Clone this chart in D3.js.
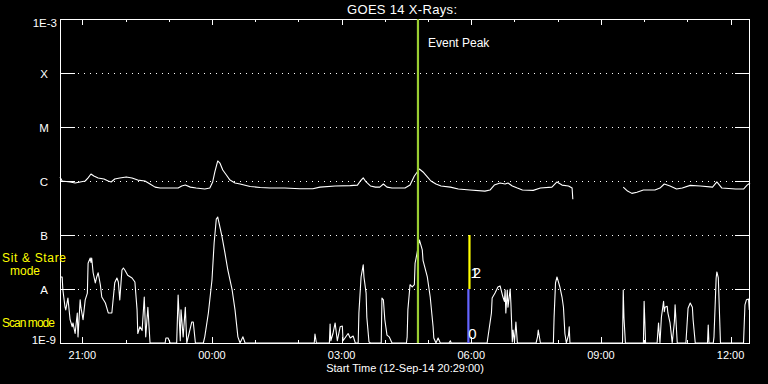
<!DOCTYPE html>
<html><head><meta charset="utf-8">
<script src="https://cdn.jsdelivr.net/npm/d3@7"></script>
<style>html,body{margin:0;padding:0;background:#000;} svg{display:block;}</style>
</head><body>
<svg id="chart" width="768" height="384"></svg>
<script>
// ---- data ----
const startTime = Date.UTC(2014, 8, 12, 20, 29, 0);   // 12-Sep-14 20:29:00
const spanMinutes = 958;
const levelValues = [1e-9, 1e-8, 1e-7, 1e-6, 1e-5, 1e-4, 1e-3];
const levelLabels = ["1E-9", "A", "B", "C", "M", "X", "1E-3"];

// long channel (minutes after start, W/m^2)
const longTimes = [0,3,14,21,28,35,39,43,47,53,61,67,71,76,83,92,100,108,118,125,132,139,153,164,169,174,181,189,201,208,212,215,219,222,226,231,236,243,250,264,278,292,312,333,351,361,382,403,413,417,421,425,431,438,444,449,454,461,479,486,492,499,504,510,515,522,529,542,553,569,590,597,603,611,618,622,628,635,642,657,667,683,690,697,706,711,712,745,782,788,794,801,810,826,833,839,847,856,864,875,889,906,912,919,938,949,954,958];
const longFlux = [1.19e-6,1.00e-6,0.96e-6,0.92e-6,0.96e-6,1.00e-6,1.14e-6,1.35e-6,1.24e-6,1.14e-6,1.09e-6,1.00e-6,0.96e-6,1.09e-6,1.14e-6,1.19e-6,1.14e-6,1.04e-6,1.00e-6,0.88e-6,0.77e-6,0.74e-6,0.74e-6,0.74e-6,0.81e-6,0.84e-6,0.77e-6,0.74e-6,0.71e-6,0.74e-6,0.96e-6,1.47e-6,2.35e-6,2.15e-6,1.60e-6,1.29e-6,1.04e-6,0.92e-6,0.88e-6,0.79e-6,0.76e-6,0.74e-6,0.74e-6,0.72e-6,0.72e-6,0.77e-6,0.81e-6,0.82e-6,0.84e-6,1.00e-6,1.14e-6,0.96e-6,0.81e-6,0.77e-6,0.77e-6,0.88e-6,0.77e-6,0.74e-6,0.74e-6,0.84e-6,1.24e-6,1.67e-6,1.47e-6,1.19e-6,1.00e-6,0.88e-6,0.81e-6,0.77e-6,0.71e-6,0.68e-6,0.65e-6,0.68e-6,0.84e-6,0.92e-6,0.88e-6,0.92e-6,0.81e-6,0.74e-6,0.68e-6,0.67e-6,0.74e-6,0.77e-6,0.96e-6,0.84e-6,0.81e-6,0.74e-6,0.46e-6,null,0.77e-6,0.65e-6,0.59e-6,0.62e-6,0.68e-6,0.68e-6,0.74e-6,0.88e-6,0.81e-6,0.71e-6,0.74e-6,0.83e-6,0.81e-6,0.77e-6,0.96e-6,0.74e-6,0.71e-6,0.71e-6,0.84e-6,0.92e-6];

// short channel (minutes after start, W/m^2)
const shortTimes = [0,3,4,7,8,11,14,17,18,21,24,25,28,29,32,35,38,39,42,43,44,46,49,51,53,56,58,63,67,72,76,79,81,83,86,88,90,94,100,104,107,108,111,114,117,119,122,125,146,147,150,153,162,164,167,168,171,174,176,183,185,188,199,201,206,211,214,217,219,222,225,229,233,239,243,247,250,254,257,353,354,356,374,375,376,379,382,385,389,392,393,400,403,407,410,414,415,418,421,422,425,426,429,431,446,447,449,451,454,457,461,481,482,483,486,489,492,493,496,499,503,504,510,514,518,519,522,525,528,540,542,543,593,594,599,600,604,608,611,615,617,618,619,621,622,625,626,628,629,631,633,635,661,663,664,667,685,686,688,690,692,694,697,699,701,703,706,707,708,781,782,783,785,810,811,813,829,831,833,835,838,839,840,843,844,847,850,853,854,857,869,872,875,878,879,882,899,900,901,907,908,911,912,914,917,949,951,953,956,957];
const shortFlux = [16.7e-9,16.7e-9,9.6e-9,4.6e-9,4.1e-9,6.8e-9,2.7e-9,2.0e-9,2.35e-9,1.5e-9,3.6e-9,1.3e-9,6.3e-9,4.6e-9,2.7e-9,6.3e-9,8.4e-9,30e-9,37.5e-9,31e-9,37.5e-9,20e-9,13e-9,16.7e-9,20e-9,12e-9,7.1e-9,5.5e-9,3.6e-9,3.6e-9,13e-9,16e-9,13.5e-9,6.3e-9,22.5e-9,24.5e-9,22.5e-9,18e-9,16e-9,13.5e-9,4.1e-9,1.5e-9,2.0e-9,1.7e-9,7.1e-9,1.3e-9,4.6e-9,1e-9,1e-9,1.24e-9,1.24e-9,1e-9,1e-9,7.7e-9,1.1e-9,4.1e-9,1.3e-9,4.6e-9,1e-9,2.45e-9,2.45e-9,1e-9,1e-9,1.3e-9,3.6e-9,14.7e-9,71e-9,198e-9,215e-9,141e-9,92e-9,46.5e-9,22.5e-9,9.6e-9,4.1e-9,1.3e-9,1e-9,1.3e-9,1e-9,1e-9,1.47e-9,1e-9,1e-9,2.25e-9,1.1e-9,1.5e-9,2.35e-9,1.1e-9,2.0e-9,2.06e-9,1.1e-9,1.5e-9,1.24e-9,1.35e-9,1e-9,1e-9,3.6e-9,16.7e-9,28e-9,16.7e-9,8.4e-9,3.0e-9,1.05e-9,1e-9,1e-9,6.8e-9,6.3e-9,2.7e-9,1.4e-9,1.3e-9,1e-9,1e-9,1.3e-9,4.1e-9,12e-9,10.9e-9,12e-9,30e-9,48e-9,81e-9,53e-9,34e-9,16.7e-9,7.1e-9,2.0e-9,1.24e-9,1e-9,1.24e-9,1e-9,1e-9,1.1e-9,1e-9,1e-9,1.24e-9,3.6e-9,6.8e-9,8.4e-9,10.9e-9,11.4e-9,7.1e-9,5.9e-9,9.6e-9,3.6e-9,9.6e-9,4.6e-9,10e-9,5.5e-9,1.05e-9,1.74e-9,1.05e-9,2.45e-9,1e-9,1e-9,1.3e-9,1.74e-9,1e-9,1e-9,3.0e-9,13e-9,16.7e-9,13.5e-9,10.9e-9,7.1e-9,4.6e-9,1.5e-9,1e-9,1.4e-9,2.0e-9,1e-9,1e-9,9.6e-9,3.0e-9,1e-9,1e-9,5.9e-9,1e-9,1e-9,2.35e-9,1e-9,3.0e-9,5.9e-9,3.8e-9,4.6e-9,4.8e-9,3.6e-9,2.35e-9,1e-9,2.45e-9,5.1e-9,1e-9,1e-9,4.4e-9,5.5e-9,4.6e-9,2.7e-9,1e-9,1e-9,2.15e-9,1e-9,1e-9,1.3e-9,16e-9,20.7e-9,16e-9,1e-9,1e-9,5.1e-9,6.3e-9,6.5e-9,4.1e-9];

const eventPeakMinute = 497;
const scanModeMinute = 567;      // blue: scan mode (A level and below)
const stareModeMinute = 568.5;   // yellow: sit & stare (A to B)

// ---- chart ----
const svg = d3.select("#chart");
const L = 60, R = 750, T = 19, B = 343;
const toDate = m => new Date(startTime + m * 60000);
const x = d3.scaleUtc().domain([toDate(0), toDate(spanMinutes)]).range([L, R]);
const y = d3.scaleLog().domain([1e-9, 1e-3]).range([B, T]).clamp(true);
const FONT = "'Liberation Sans', Arial, sans-serif";

svg.append("rect").attr("width", 768).attr("height", 384).attr("fill", "#000");

// gridlines (dotted) and level ticks
const g = svg.append("g").attr("shape-rendering", "crispEdges");
levelValues.forEach((v, i) => {
  const yy = Math.round(y(v)) + 0.5;
  if (i > 0 && i < levelValues.length - 1) {
    g.append("line").attr("x1", L + 18).attr("x2", R - 15).attr("y1", yy).attr("y2", yy)
      .attr("stroke", "#fff").attr("stroke-dasharray", "1,5");
    g.append("line").attr("x1", L).attr("x2", L + 15).attr("y1", yy).attr("y2", yy).attr("stroke", "#fff");
    g.append("line").attr("x1", R - 15).attr("x2", R).attr("y1", yy).attr("y2", yy).attr("stroke", "#fff");
  }
});

// border
g.append("rect").attr("x", L + 0.5).attr("y", T + 0.5).attr("width", R - L - 1).attr("height", B - T)
  .attr("fill", "none").attr("stroke", "#fff");

// time ticks
const hours = d3.utcHour.range(toDate(0), toDate(spanMinutes));
hours.forEach(h => {
  const xx = Math.round(x(h)) + 0.5;
  const major = h.getUTCHours() % 3 === 0;
  const len = major ? 6 : 3;
  g.append("line").attr("x1", xx).attr("x2", xx).attr("y1", T).attr("y2", T + len).attr("stroke", "#fff");
  g.append("line").attr("x1", xx).attr("x2", xx).attr("y1", B).attr("y2", B - len).attr("stroke", "#fff");
  if (major) {
    svg.append("text").attr("x", x(h)).attr("y", 359).attr("text-anchor", "middle")
      .attr("fill", "#fff").attr("font-family", FONT).attr("font-size", 11)
      .text(d3.utcFormat("%H:%M")(h));
  }
});

// level labels
levelValues.forEach((v, i) => {
  const lab = levelLabels[i];
  const t = svg.append("text").attr("fill", "#fff").attr("font-family", FONT).attr("font-size", 11.5).text(lab);
  if (i === 0) t.attr("x", 56).attr("y", 344).attr("text-anchor", "end");
  else if (i === levelValues.length - 1) t.attr("x", 57).attr("y", 27).attr("text-anchor", "end");
  else t.attr("x", 44).attr("y", y(v) + 5).attr("text-anchor", "middle");
});

// data lines
const longData = longTimes.map((t, i) => ({ t: toDate(t), f: longFlux[i] }));
const shortData = shortTimes.map((t, i) => ({ t: toDate(t), f: shortFlux[i] }));
const line = d3.line().defined(d => d.f != null).x(d => x(d.t)).y(d => y(d.f));
svg.append("path").datum(longData).attr("d", line).attr("fill", "none").attr("stroke", "#fff")
  .attr("stroke-width", 1.1).attr("stroke-linejoin", "round");
svg.append("path").datum(shortData).attr("d", line).attr("fill", "none").attr("stroke", "#fff")
  .attr("stroke-width", 1.1).attr("stroke-linejoin", "round");

// event peak
svg.append("line").attr("x1", x(toDate(eventPeakMinute))).attr("x2", x(toDate(eventPeakMinute)))
  .attr("y1", T).attr("y2", B).attr("stroke", "#9acd32").attr("stroke-width", 2.2);
svg.append("text").attr("x", x(toDate(eventPeakMinute)) + 10).attr("y", 47)
  .attr("fill", "#fff").attr("font-family", FONT).attr("font-size", 12).text("Event Peak");

// mode markers
svg.append("line").attr("x1", x(toDate(scanModeMinute))).attr("x2", x(toDate(scanModeMinute)))
  .attr("y1", y(1e-9)).attr("y2", y(1e-8)).attr("stroke", "#6464ff").attr("stroke-width", 2.2);
svg.append("line").attr("x1", x(toDate(stareModeMinute))).attr("x2", x(toDate(stareModeMinute)))
  .attr("y1", y(1e-8)).attr("y2", y(1e-7)).attr("stroke", "#ffff00").attr("stroke-width", 2.2);
svg.append("text").attr("x", x(toDate(stareModeMinute)) + 1).attr("y", 278)
  .attr("fill", "#fff").attr("font-family", FONT).attr("font-size", 15).attr("letter-spacing", -6).text("12");
svg.append("text").attr("x", x(toDate(scanModeMinute)) + 4).attr("y", 339).attr("text-anchor", "middle")
  .attr("fill", "#fff").attr("font-family", FONT).attr("font-size", 15).text("0");

// mode labels
const yel = "#ffff00";
svg.append("text").attr("x", 2).attr("y", 262).attr("fill", yel).attr("font-family", FONT).attr("font-size", 12)
  .attr("textLength", 64).text("Sit & Stare");
svg.append("text").attr("x", 25).attr("y", 275).attr("text-anchor", "middle").attr("fill", yel)
  .attr("font-family", FONT).attr("font-size", 12).text("mode");
svg.append("text").attr("x", 2).attr("y", 327).attr("fill", yel).attr("font-family", FONT).attr("font-size", 12)
  .attr("textLength", 53).text("Scan mode");

// title and axis title
svg.append("text").attr("x", 402).attr("y", 14).attr("text-anchor", "middle").attr("fill", "#fff")
  .attr("font-family", FONT).attr("font-size", 13).attr("textLength", 110).text("GOES 14 X-Rays:");
svg.append("text").attr("x", 405).attr("y", 372).attr("text-anchor", "middle").attr("fill", "#fff")
  .attr("font-family", FONT).attr("font-size", 11).text("Start Time (12-Sep-14 20:29:00)");
</script>
</body></html>
